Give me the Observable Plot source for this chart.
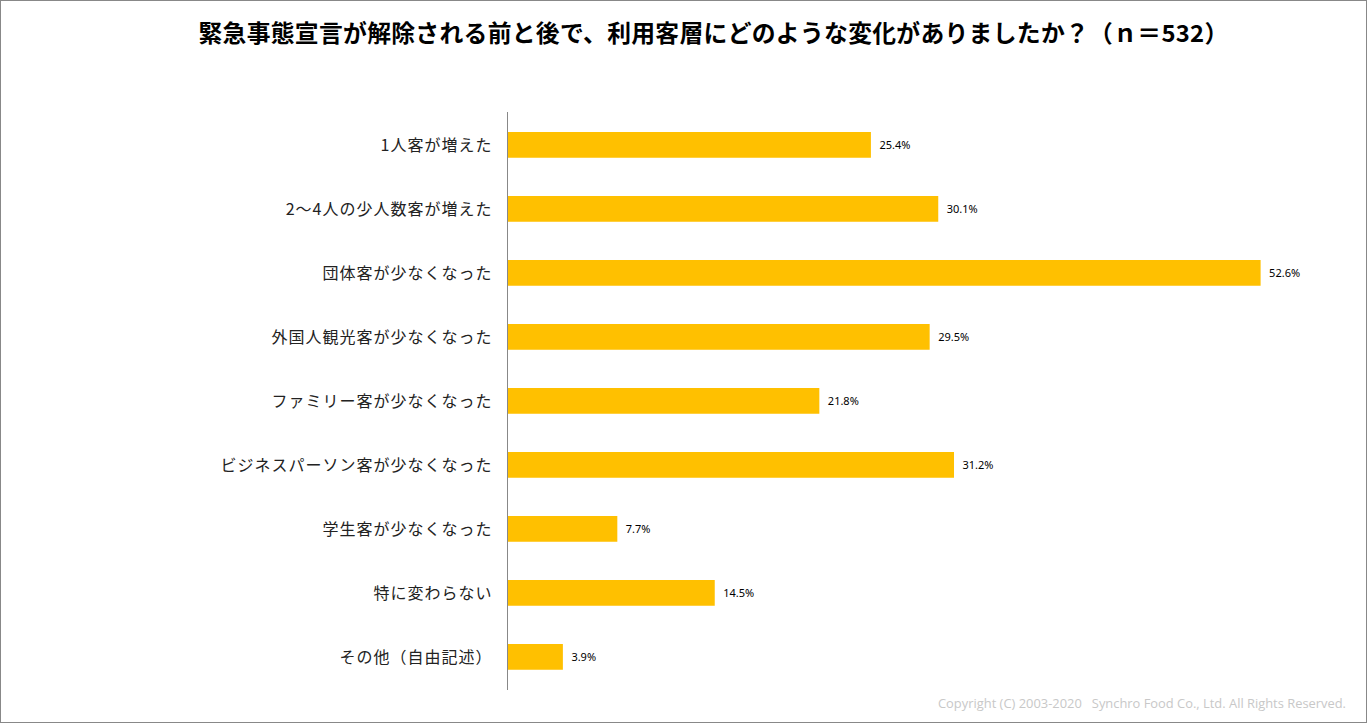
<!DOCTYPE html>
<html><head><meta charset="utf-8">
<script src="https://cdn.jsdelivr.net/npm/d3@7"></script>
<script src="https://cdn.jsdelivr.net/npm/@observablehq/plot@0.6"></script>
<style>
body{margin:0;background:#fff;}
#wrap{position:relative;width:1365px;height:721px;border:1px solid #888;overflow:hidden;font-family:"Noto Sans CJK JP","Noto Sans",sans-serif;}
#title{height:64px;line-height:62px;text-align:center;font-weight:bold;font-size:23.8px;color:#000;padding-left:60px;letter-spacing:0.3px;}
#copy{position:absolute;right:20px;bottom:10px;font-family:"Open Sans","Noto Sans",sans-serif;font-size:12.9px;color:#c8c8c8;}
#chart g[aria-label="y-axis tick label"] text{letter-spacing:1px;}
</style></head>
<body>
<div id="wrap">
<div id="title">緊急事態宣言が解除される前と後で、利用客層にどのような変化がありましたか？（ｎ＝532）</div>
<div id="chart"></div>
<div id="copy">Copyright (C) 2003-2020&nbsp;&nbsp; Synchro Food Co., Ltd. All Rights Reserved.</div>
</div>
<script>
const categories = ["1人客が増えた","2～4人の少人数客が増えた","団体客が少なくなった","外国人観光客が少なくなった","ファミリー客が少なくなった","ビジネスパーソン客が少なくなった","学生客が少なくなった","特に変わらない","その他（自由記述）"];
const values = [25.4, 30.1, 52.6, 29.5, 21.8, 31.2, 7.7, 14.5, 3.9];
const data = categories.map((c, i) => ({category: c, value: values[i]}));

const chart = Plot.plot({
  width: 1365,
  height: 630,
  marginTop: 47,
  marginBottom: 5,
  marginLeft: 506,
  marginRight: 71,
  style: {fontFamily: '"Noto Sans CJK JP","Noto Sans",sans-serif', background: "#fff"},
  x: {domain: [0, 55], axis: null},
  y: {domain: categories, padding: 0, label: null},
  marks: [
    Plot.barX(data, {x: "value", y: "category", fill: "#FFC000", insetTop: 19, insetBottom: 19.25}),
    Plot.text(data, {x: "value", y: "category", text: d => d.value.toFixed(1) + "%", textAnchor: "start", dx: 8, fontSize: 11, fill: "#000", fontFamily: '"Noto Sans","DejaVu Sans",sans-serif'}),
    Plot.axisY({tickSize: 0, tickPadding: 15, fontSize: 16, color: "#222", label: null}),
    Plot.ruleX([0], {stroke: "#888", strokeWidth: 1})
  ]
});
document.getElementById("chart").appendChild(chart);
</script>
</body></html>
